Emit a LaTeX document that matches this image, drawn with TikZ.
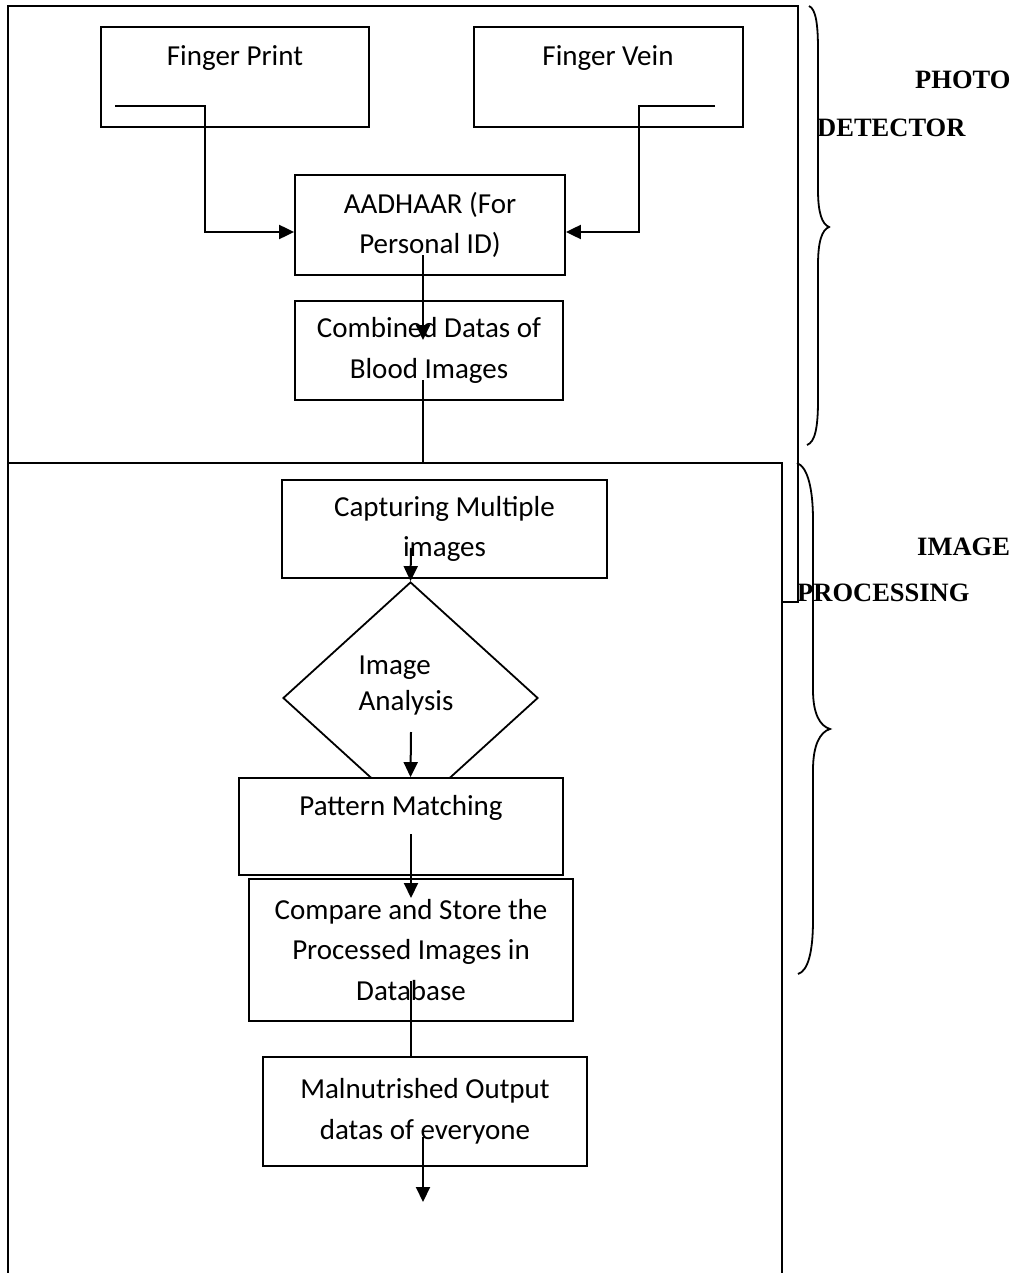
\documentclass[tikz,border=0pt]{standalone}
\usepackage{fontspec}
\setmainfont{Carlito}
\newfontfamily\timesbf{Liberation Serif}[Scale=1.0]
\usetikzlibrary{arrows.meta,shapes.geometric,calc}
\begin{document}
\begin{tikzpicture}[x=1pt,y=-1pt,
  box/.style={draw,line width=1.8pt,inner sep=0pt,align=center,font=\fontsize{29}{40.5}\selectfont},
  txt/.style={inner sep=0pt,align=center,font=\fontsize{29}{40.5}\selectfont},
  frame/.style={line width=2pt},
  arr/.style={line width=2pt,-{Triangle[length=15pt,width=14pt]}},
  conn/.style={line width=2pt},
  brace/.style={line width=1.8pt},
  side/.style={inner sep=0pt,font=\timesbf\bfseries\fontsize{26.5}{30}\selectfont}]
\useasboundingbox (0,0) rectangle (1014,1273);
% frames
\coordinate (tl) at (8,6);
\coordinate (tr) at (798,6);
\coordinate (trb) at (798,602);
\coordinate (lbt) at (8,463);
\coordinate (lrt) at (782,463);
\draw[frame] (8,1273) -- (tl) -- (tr) -- (trb) -- (782,602);
\draw[frame] (lbt) -- (lrt) -- (782,1273);
% boxes
\node[box,minimum width=268,minimum height=100] (fp) at (235,77) {};
\node[txt] (tfp) at (235,58) {Finger Print};
\node[box,minimum width=269,minimum height=100] (fv) at (608.5,77) {};
\node[txt] (tfv) at (608,58) {Finger Vein};
\node[box,minimum width=270,minimum height=100] (aad) at (430,225) {AADHAAR (For\\Personal ID)};
\node[box,minimum width=268,minimum height=99] (comb) at (429,350.5) {Combined Datas of\\Blood Images};
\node[box,minimum width=325,minimum height=98] (capt) at (444.5,529) {Capturing Multiple\\images};
\node[draw,diamond,line width=1.8pt,inner sep=0pt,minimum width=255,minimum height=232] (diam) at (410.5,698) {};
\node[txt,align=left,font=\fontsize{29}{36}\selectfont] (tdiam) at (406,686) {Image\\Analysis};
\node[box,fill=white,minimum width=324,minimum height=97] (patt) at (401,826.5) {};
\node[txt] (tpatt) at (401,808) {Pattern Matching};
\node[box,minimum width=324,minimum height=142] (comp) at (411,950) {Compare and Store the\\Processed Images in\\Database};
\node[box,minimum width=324,minimum height=109] (maln) at (425,1111.5) {Malnutrished Output\\datas of everyone};
% connectors
\coordinate (fpo) at (115,106);
\coordinate (fvo) at (715,106);
\draw[arr] (fpo) -- ++(90,0) |- ($(aad.west)+(0,7)$);
\draw[arr] (fvo) -- ++(-76,0) |- ($(aad.east)+(0,7)$);
\coordinate (aado) at (423,255);
\coordinate (combin) at (423,340);
\draw[arr] (aado) -- (combin);
\coordinate (combo) at (423,380);
\draw[conn] (combo) -- (combo |- lbt);
\coordinate (capto) at (411,548);
\draw[arr] (capto) -- (diam.north);
\coordinate (diamo) at (411,732);
\draw[arr] (diamo) -- (patt.north -| diam.center);
\coordinate (patto) at (411,834);
\coordinate (compin) at (411,898);
\draw[arr] (patto) -- (compin);
\coordinate (compo) at (411,981);
\draw[conn] (compo) -- (maln.north -| compo);
\coordinate (malno) at (423,1137);
\coordinate (out) at (423,1202);
\draw[arr] (malno) -- (out);
% braces
\draw[brace] (809,6) .. controls (816,9) and (818,25) .. (818,50) -- (818,190) .. controls (818,213) and (822,224) .. (829,227) .. controls (822,230) and (818,241) .. (818,265) -- (818,400) .. controls (818,428) and (815,442) .. (807,445);
\draw[brace] (797,463) .. controls (808,467) and (813,490) .. (813,520) -- (813,690) .. controls (813,714) and (820,726) .. (830,729) .. controls (820,732) and (813,745) .. (813,770) -- (813,920) .. controls (813,952) and (808,971) .. (798,974);
% side labels
\node[side,anchor=west] (photo) at (915,80) {PHOTO};
\node[side,anchor=west] (det) at (817,128) {DETECTOR};
\node[side,anchor=west] (img) at (917,547) {IMAGE};
\node[side,anchor=west] (proc) at (797,593) {PROCESSING};
\end{tikzpicture}
\end{document}
